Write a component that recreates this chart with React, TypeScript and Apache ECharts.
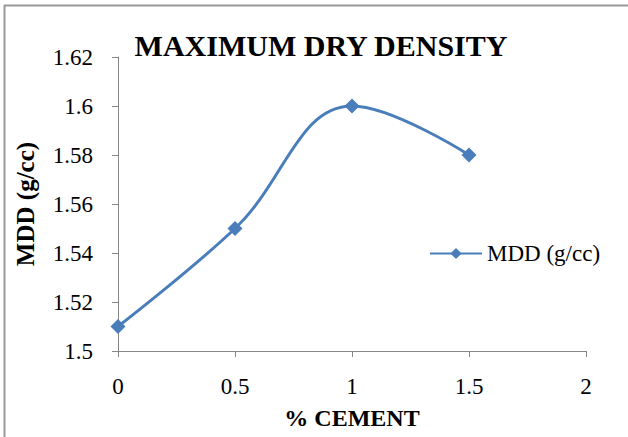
import React, { useEffect, useRef } from "react";
import * as echarts from "echarts";

const xValues = [0, 0.5, 1, 1.5];
const mddValues = [1.51, 1.55, 1.6, 1.58];
const seriesName = "MDD (g/cc)";
const titleText = "MAXIMUM DRY DENSITY";
const xAxisName = "% CEMENT";
const yAxisName = "MDD (g/cc)";

const FONT = "Liberation Serif";

export default function App() {
  const ref = useRef<HTMLDivElement>(null);
  useEffect(() => {
    document.body.style.margin = "0";
    const chart = echarts.init(ref.current!, null, { renderer: "svg" });
    chart.setOption({
      animation: false,
      backgroundColor: "#fff",
      textStyle: { fontFamily: FONT },
      title: {
        text: titleText,
        left: 316,
        top: 25,
        textAlign: "center",
        textStyle: { fontFamily: FONT, fontWeight: "bold", fontSize: 30, color: "#000" },
      },
      legend: {
        left: 424,
        top: 237,
        itemWidth: 52,
        itemHeight: 14,
        itemGap: 6,
        textStyle: { fontFamily: FONT, fontSize: 23, color: "#000" },
        data: [seriesName],
      },
      grid: { left: 118, right: 42, top: 57, bottom: 86 },
      xAxis: {
        type: "value",
        min: 0,
        max: 2,
        interval: 0.5,
        name: xAxisName,
        nameLocation: "middle",
        nameGap: 55,
        nameTextStyle: { fontFamily: FONT, fontWeight: "bold", fontSize: 24, color: "#000" },
        axisLine: { lineStyle: { color: "#868686", width: 1 } },
        axisTick: { show: true, length: 6, lineStyle: { color: "#868686" } },
        axisLabel: { fontFamily: FONT, fontSize: 23, color: "#000", margin: 24 },
        splitLine: { show: false },
      },
      yAxis: {
        type: "value",
        min: 1.5,
        max: 1.62,
        interval: 0.02,
        name: yAxisName,
        nameLocation: "middle",
        nameGap: 80,
        nameTextStyle: { fontFamily: FONT, fontWeight: "bold", fontSize: 25, color: "#000" },
        axisLine: { show: true, lineStyle: { color: "#868686", width: 1 } },
        axisTick: { show: true, length: 6, lineStyle: { color: "#868686" } },
        axisLabel: { fontFamily: FONT, fontSize: 23, color: "#000", margin: 25 },
        splitLine: { show: false },
      },
      series: [
        {
          name: seriesName,
          type: "line",
          data: xValues.map((x, i) => [x, mddValues[i]]),
          smooth: 0.4,
          symbol: "diamond",
          symbolSize: 15,
          lineStyle: { color: "#4a7ebb", width: 3 },
          itemStyle: { color: "#4a7ebb" },
        },
      ],
      graphic: [
        { type: "line", shape: { x1: 4.5, y1: 5, x2: 4.5, y2: 437 }, style: { stroke: "#999", lineWidth: 2 } },
        { type: "line", shape: { x1: 4, y1: 5.5, x2: 628, y2: 5.5 }, style: { stroke: "#999", lineWidth: 2 } },
      ],
    });
    return () => chart.dispose();
  }, []);
  return <div ref={ref} style={{ width: 628, height: 437 }} />;
}
